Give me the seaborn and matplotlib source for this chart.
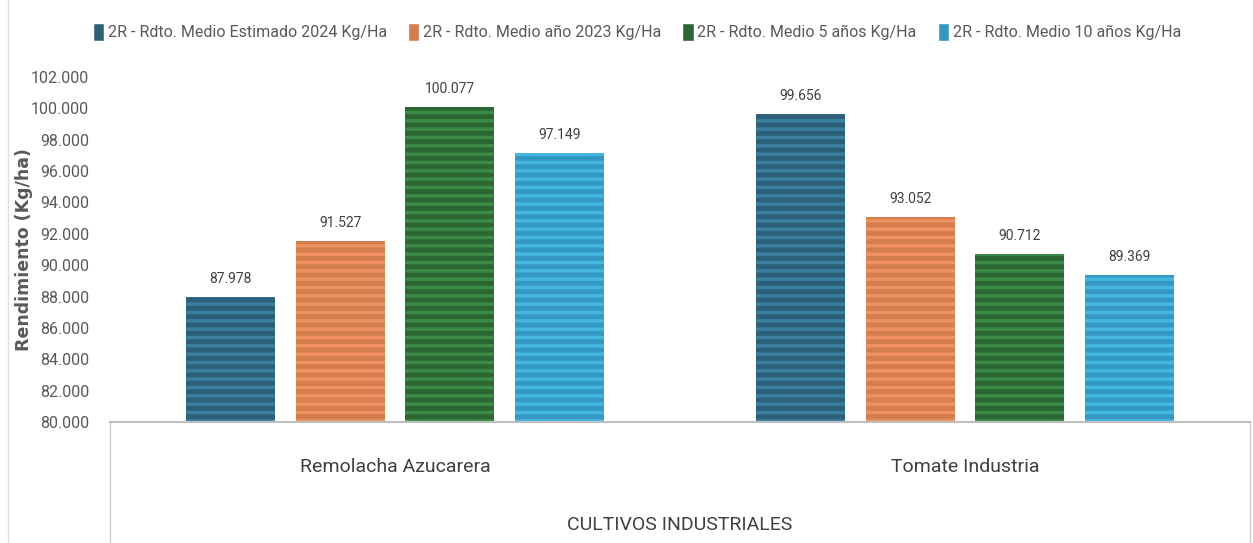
import pandas as pd
import matplotlib.pyplot as plt
import seaborn as sns
from matplotlib.lines import Line2D

# Datos
cultivos = ['Remolacha Azucarera', 'Tomate Industria']
series = ['2R - Rdto. Medio Estimado 2024 Kg/Ha',
          '2R - Rdto. Medio año 2023 Kg/Ha',
          '2R - Rdto. Medio 5 años Kg/Ha',
          '2R - Rdto. Medio 10 años Kg/Ha']
estimado_2024 = [87978, 99656]
anio_2023 = [91527, 93052]
medio_5 = [100077, 90712]
medio_10 = [97149, 89369]

colores = ['#1f6485', '#ea7637', '#21702c', '#1ca3da']
rayas = ['#3a7f9e', '#ef9260', '#3b8a45', '#45b5e2']

df = pd.DataFrame({
    'cultivo': cultivos * 4,
    'serie': [s for s in series for _ in cultivos],
    'valor': estimado_2024 + anio_2023 + medio_5 + medio_10,
})

sns.set_style('white')
plt.rcParams['font.family'] = ['Roboto', 'DejaVu Sans']
plt.rcParams['hatch.linewidth'] = 2.5

fig = plt.figure(figsize=(12.53, 5.43), dpi=100)
ax = fig.add_axes([110 / 1253, 121 / 543, 1140 / 1253, 345 / 543])

sns.barplot(data=df, x='cultivo', y='valor', hue='serie', palette=colores,
            width=0.77, gap=0.19, ax=ax, legend=True)
ax.set_xlim(-0.5, 1.5)

# rayas horizontales
for i, cont in enumerate(ax.containers):
    for p in cont:
        p.set_hatch('--')
        p.set_edgecolor(rayas[i])
        p.set_linewidth(0)
    ax.bar_label(cont, labels=[f'{v:,.0f}'.replace(',', '.') for v in cont.datavalues],
                 padding=8, fontsize=10, color='#404040')

ax.set_ylim(80000, 102000)
ax.set_yticks(range(80000, 102001, 2000))
ax.set_yticklabels([f'{v:,}'.replace(',', '.') for v in range(80000, 102001, 2000)],
                   fontsize=11.5, color='#595959')
ax.tick_params(axis='y', length=0, pad=15)
ax.tick_params(axis='x', length=0, pad=26, labelsize=14, labelcolor='#404040')

ax.set_ylabel('Rendimiento (Kg/ha)', family='DejaVu Sans', fontweight='bold',
              fontsize=12.5, color='#595959')
ax.yaxis.set_label_coords(-77 / 1140, 0.5)
ax.set_xlabel('CULTIVOS INDUSTRIALES', fontsize=14, color='#404040')
ax.xaxis.set_label_coords(0.5, -(516 - 422) / 345)

sns.despine(ax=ax, left=True, right=True, top=True)
ax.spines['bottom'].set_color('#bfbfbf')
ax.spines['bottom'].set_linewidth(1.5)

# caja del eje de categorias
for xx in (0, 1):
    ax.plot([xx, xx], [0, -0.4], transform=ax.transAxes, color='#d0d0d0',
            lw=1, clip_on=False)
fig.add_artist(Line2D([8 / 1253, 8 / 1253], [0, 1], color='#e0e0e0', lw=1))

ax.legend(loc='center', bbox_to_anchor=((637 - 110) / 1140, 1 + (77 - 32) / 345),
          ncol=4, frameon=False, fontsize=11.5, handlelength=0.7, handleheight=1.3,
          handletextpad=0.25, columnspacing=1.3, labelcolor='#595959')

fig.savefig('out.png', dpi=100)
